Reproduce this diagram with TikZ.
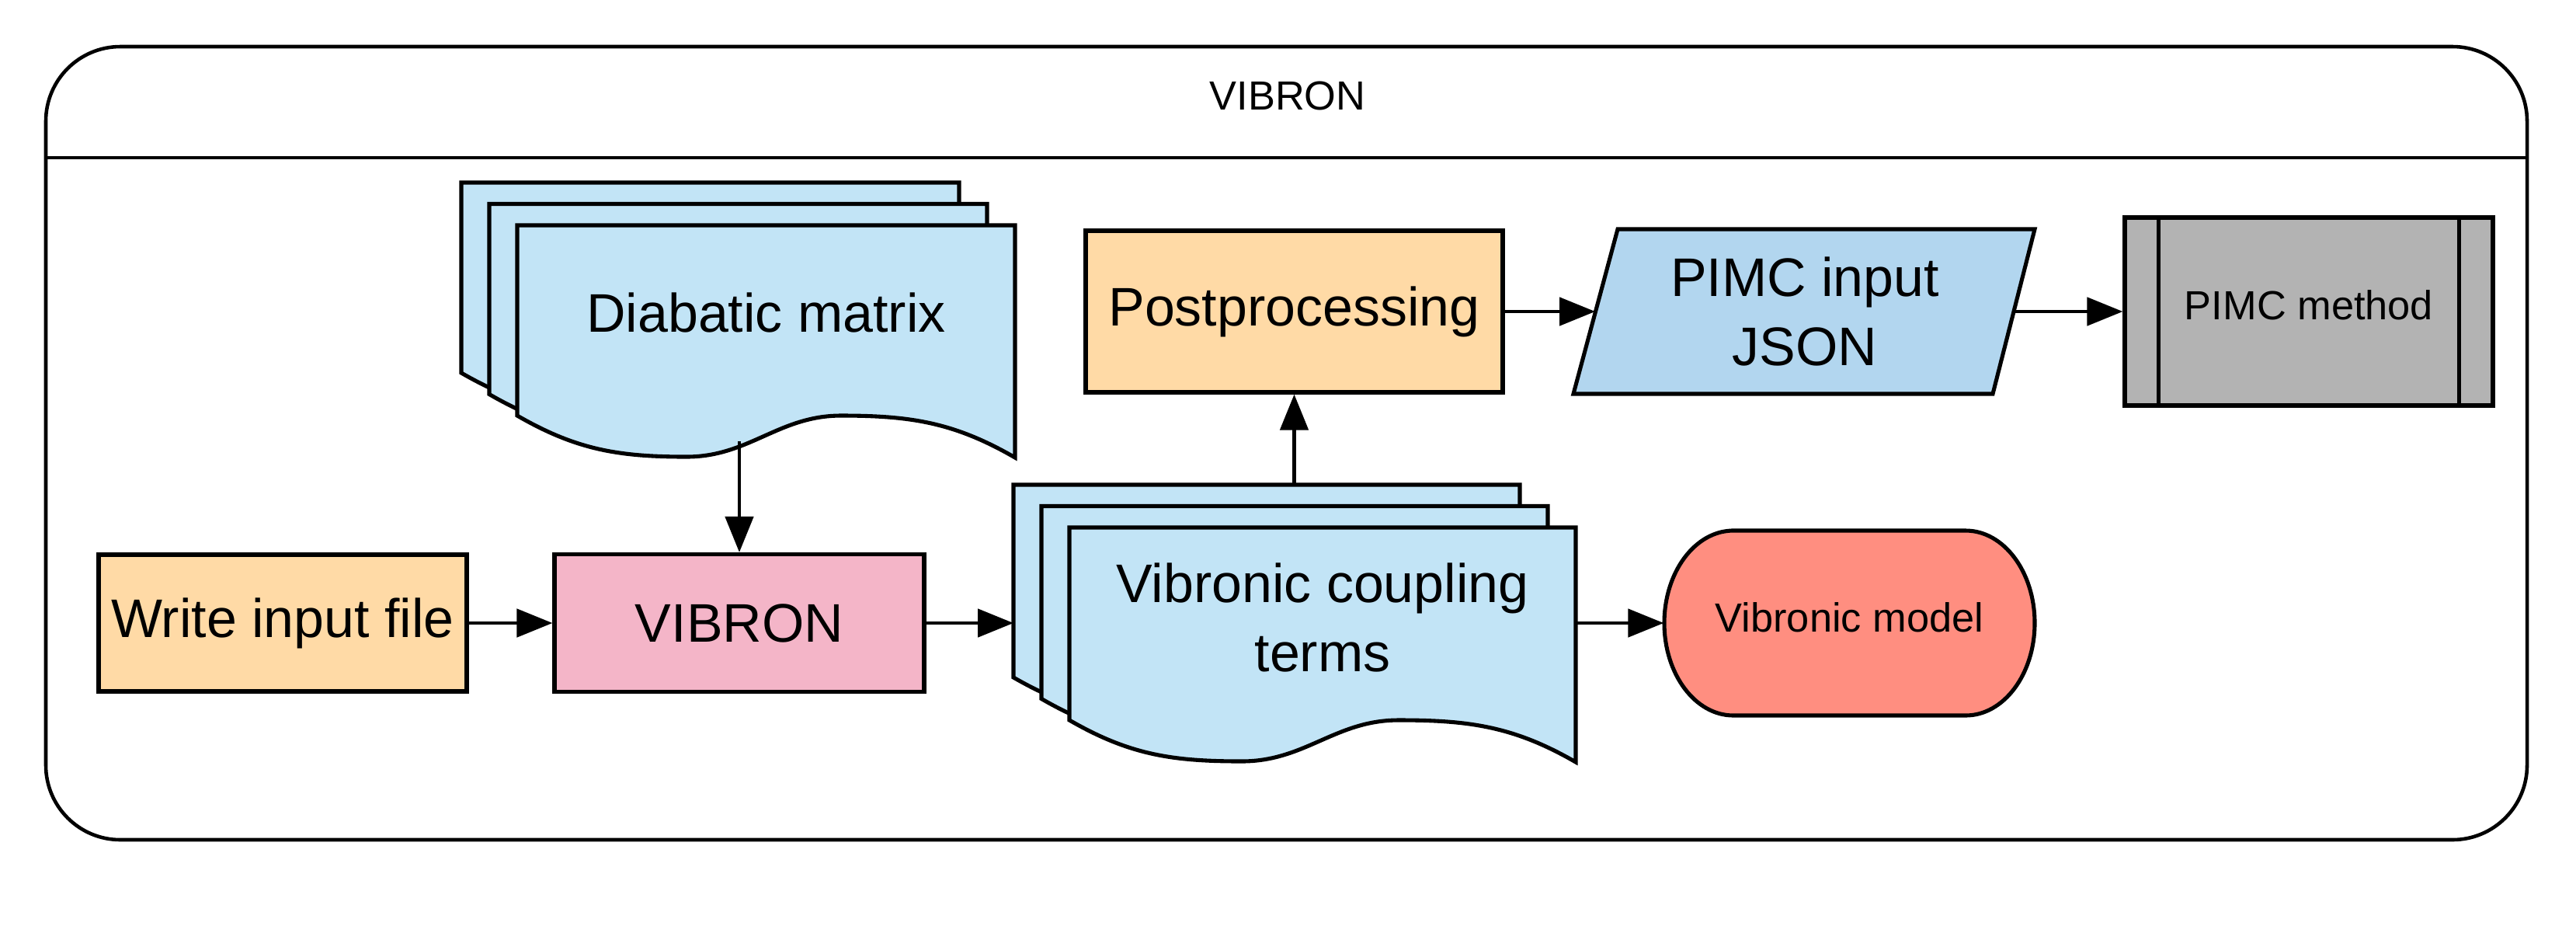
\documentclass[tikz,border=0pt]{standalone}
\usepackage{fontspec}
\setmainfont{Liberation Sans}
\usepackage{tikz}
\usetikzlibrary{arrows.meta}
\definecolor{my_peach}{HTML}{FFDAA6}
\definecolor{my_pink}{HTML}{F4B5C8}
\definecolor{my_sheetblue}{HTML}{C2E4F6}
\definecolor{my_inputblue}{HTML}{B2D6EF}
\definecolor{my_gray}{HTML}{B3B3B3}
\definecolor{my_salmon}{HTML}{FF8E80}
\newcommand{\flowbig}{\fontsize{19.9}{25.3}\selectfont}
\newcommand{\flowsmall}{\fontsize{14.9}{18}\selectfont}

\begin{document}
\begin{tikzpicture}[
    >={Triangle[length=0.46cm, width=0.36cm]},
    every node/.style={font=\flowbig},
    box/.style={draw=black, line width=1.45pt, minimum width=4.74cm, minimum height=1.76cm},
    textonly/.style={inner sep=0pt, align=center},
    sheet/.style={draw=black, line width=1.45pt, fill=my_sheetblue},
    shapeline/.style={draw=black, line width=1.45pt},
    flow/.style={->, line width=1.35pt}
]

% Page size
\useasboundingbox (0,0) rectangle (33.17,-12);

% Outer container with header band
\draw[line width=1.3pt, rounded corners=0.96cm]
    (0.59,-0.60) rectangle (32.54,-10.81);
\draw[line width=1.3pt]
    (0.59,-2.03) -- (32.54,-2.03);
\node[font=\flowsmall] (title) at (16.58,-1.23) {VIBRON};

% Diabatic matrix: three stacked sheets, back to front
\foreach \k in {0,1,2} {
  \draw[sheet, shift={(0.36*\k,-0.275*\k)}]
    (5.94,-2.35) -- (12.35,-2.35) -- (12.35,-5.34)
    to[out=150, in=0] (10.11,-4.80)
    to[out=180, in=0] (8.12,-5.33)
    to[out=180, in=-30] (5.94,-4.80) -- cycle;
}
\node[textonly] (diabatic) at (9.865,-4.02) {Diabatic matrix};

% Vibronic coupling terms: three stacked sheets, back to front
\foreach \k in {0,1,2} {
  \draw[sheet, shift={(0.36*\k,-0.275*\k)}]
    (13.05,-6.24) -- (19.57,-6.24) -- (19.57,-9.26)
    to[out=150, in=0] (17.29,-8.72)
    to[out=180, in=0] (15.27,-9.25)
    to[out=180, in=-30] (13.05,-8.72) -- cycle;
}
\node[textonly] (coupling) at (17.03,-7.95) {Vibronic coupling\\terms};

% Ends of the connectors on the sheets
\coordinate (diabatic-out) at (9.52,-5.68);
\coordinate (coupling-in)  at (13.05,-8.02);
\coordinate (coupling-out) at (20.29,-8.02);
\coordinate (coupling-up)  at (16.665,-6.24);

% Process boxes
\node[box, fill=my_peach] (write) at (3.64,-8.02) {Write input file};
\node[box, fill=my_pink, minimum width=4.76cm, minimum height=1.77cm]
    (vibron) at (9.52,-8.02) {VIBRON};
\node[box, fill=my_peach, minimum width=5.37cm, minimum height=2.08cm]
    (post) at (16.665,-4.01) {Postprocessing};

% PIMC input as a parallelogram
\draw[shapeline, fill=my_inputblue]
    (20.83,-2.95) -- (26.20,-2.95) -- (25.66,-5.07) -- (20.26,-5.07) -- cycle;
\node[textonly, minimum width=5.385cm, minimum height=2.12cm]
    (json) at (23.24,-4.01) {PIMC input\\JSON};

% PIMC method, predefined process
\node[box, fill=my_gray, minimum width=4.74cm, minimum height=2.42cm]
    (method) at (29.73,-4.01) {};
\node[textonly, font=\flowsmall] (method-label) at (29.73,-3.93) {PIMC method};
\draw[shapeline]
    ([xshift=0.46cm]method.north west) -- ([xshift=0.46cm]method.south west);
\draw[shapeline]
    ([xshift=-0.46cm]method.north east) -- ([xshift=-0.46cm]method.south east);

% Vibronic model with curved sides
\draw[shapeline, fill=my_salmon]
    (22.32,-6.83) -- (25.31,-6.83)
    arc[start angle=90, end angle=-90, x radius=0.89, y radius=1.19]
    -- (22.32,-9.21)
    arc[start angle=270, end angle=90, x radius=0.89, y radius=1.19]
    -- cycle;
\node[textonly, minimum width=4.77cm, minimum height=2.38cm]
    (model) at (23.815,-8.02) {};
\node[textonly, font=\flowsmall] (model-label) at (23.815,-7.95) {Vibronic model};

% Connectors
\draw[flow] (diabatic-out) -- (vibron);
\draw[flow] (write) -- (vibron);
\draw[flow] (vibron) -- (coupling-in);
\draw[flow] (coupling-up) -- (post);
\draw[flow] (post) -- (json.west);
\draw[flow] (json.east) -- (method);
\draw[flow] (coupling-out) -- (model.west);

\end{tikzpicture}
\end{document}
